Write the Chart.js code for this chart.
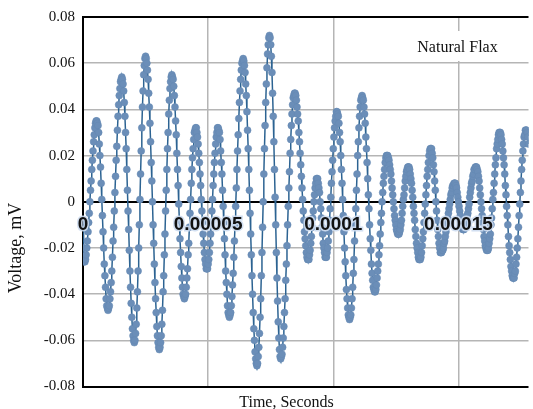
<!DOCTYPE html>
<html>
<head>
<meta charset="utf-8">
<script src="https://cdn.jsdelivr.net/npm/chart.js@4/dist/chart.umd.min.js"></script>
<style>
  html, body { margin: 0; padding: 0; background: #ffffff; }
  #wrap { width: 533px; height: 409px; }
</style>
</head>
<body>
<div id="wrap"><canvas id="chart" width="533" height="409"></canvas></div>
<script>
// Natural flax acoustic response: voltage samples in microvolts, one every 0.25 µs.
const SERIES_LABEL = 'Natural Flax';
const SAMPLE_INTERVAL_S = 0.25e-6;

const trace_000_025us = [
  -8, -20, -26,
  -26, -25, -23, -20, -17, -13, -9, -5, 0, 5, 9, 14, 18, 22, 26, 29, 32, 34, 35, 35,
  34, 33, 30, 25, 20, 15, 8, 1, -6, -13, -20, -27, -32, -37, -42, -45, -46, -47,
  -46, -45, -42, -39, -35, -30, -24, -17, -11, -4, 4, 11, 18, 24, 31, 37, 42, 46, 49, 52, 53, 54,
  53, 51, 48, 43, 37, 30, 23, 14, 5, -4, -12, -21, -30, -37, -44, -50, -55, -58, -60, -61,
  -60, -57, -53, -46, -39, -30, -20, -10, 1, 12, 22, 32, 41, 48, 55, 59, 62, 63
];
const trace_025_050us = [
  62, 60, 57, 53, 47, 41, 34, 26, 17, 9, 0, -10, -18, -27, -35, -42, -48, -54, -58, -61, -63, -64,
  -63, -61, -58, -53, -47, -39, -32, -23, -14, -4, 5, 14, 23, 30, 38, 44, 49, 52, 54, 55,
  54, 53, 50, 46, 41, 35, 29, 21, 14, 7, -1, -8, -16, -22, -28, -33, -37, -40, -41, -42,
  -41, -40, -37, -33, -29, -23, -18, -11, -5, 1, 8, 14, 19, 23, 27, 30, 31, 32,
  32, 30, 28, 25, 21, 17, 12, 7, 1, -4, -9, -14, -18, -22, -25, -27, -29, -29
];
const trace_050_075us = [
  -29, -27, -25, -22, -18, -14, -9, -4, 1, 7, 12, 17, 21, 25, 28, 30, 32, 32,
  31, 30, 27, 22, 17, 12, 5, -2, -9, -16, -23, -30, -35, -40, -45, -48, -49, -50,
  -49, -48, -45, -41, -36, -31, -24, -17, -10, -2, 6, 14, 22, 29, 36, 43, 48, 53, 57, 60, 61, 62,
  61, 59, 56, 51, 46, 39, 31, 23, 14, 5, -5, -14, -23, -32, -40, -48, -55, -60, -65, -68, -70, -71,
  -70, -67, -63, -57, -50, -42, -32, -22, -11, 0, 12, 23, 33, 43, 51, 58, 64, 68, 71, 72
];
const trace_075_102us = [
  71, 68, 63, 56, 47, 37, 26, 14, 2, -10, -22, -33, -43, -52, -59, -64, -67, -68,
  -67, -66, -63, -59, -54, -48, -42, -34, -27, -19, -10, -2, 6, 13, 21, 27, 33, 38, 42, 45, 46, 47,
  47, 46, 44, 41, 38, 35, 30, 26, 21, 16, 11, 6, 1, -4, -8, -13, -16, -19, -22, -24, -25, -25,
  -25, -23, -21, -18, -15, -11, -7, -4, 0, 3, 6, 8, 10, 10,
  10, 8, 6, 4, 0, -3, -7, -11, -14, -18, -20, -22, -24, -24,
  -24, -22, -20, -17, -13, -8, -3, 2, 8, 13, 18, 23, 28, 32, 35, 37, 39, 39
];
const trace_102_126us = [
  38, 37, 34, 30, 26, 20, 14, 8, 1, -6, -13, -20, -26, -32, -38, -42, -46, -49, -50, -51,
  -50, -49, -46, -42, -37, -31, -25, -17, -10, -3, 5, 12, 20, 26, 32, 37, 41, 44, 45, 46,
  45, 44, 41, 38, 34, 28, 23, 17, 10, 3, -3, -10, -16, -21, -27, -31, -34, -37, -38, -39,
  -39, -38, -36, -33, -30, -27, -23, -19, -14, -9, -5, 0, 4, 8, 11, 14, 17, 19, 20, 20,
  20, 19, 18, 16, 14, 12, 9, 6, 3, 0, -3, -6, -8, -10, -12, -13, -14, -14
];
const trace_126_152us = [
  -14, -13, -12, -10, -8, -5, -2, 1, 3, 6, 9, 11, 13, 14, 15, 15,
  15, 14, 12, 10, 8, 5, 2, -2, -5, -8, -12, -15, -18, -20, -22, -24, -25, -25,
  -25, -24, -22, -19, -16, -13, -9, -5, -1, 3, 7, 11, 14, 17, 20, 22, 23, 23,
  23, 21, 19, 16, 13, 9, 5, 0, -4, -8, -12, -15, -18, -20, -22, -22,
  -22, -21, -21, -20, -18, -17, -15, -13, -11, -9, -7, -5, -3, -1, 1, 3, 4, 6, 7, 7, 8, 8,
  8, 7, 6, 4, 2, 0, -2, -4, -6, -8, -10, -11, -12, -12
];
const trace_152_179us = [
  -12, -11, -11, -9, -8, -6, -5, -3, -1, 2, 4, 6, 8, 9, 11, 12, 14, 14, 15, 15,
  15, 14, 13, 11, 9, 6, 3, 0, -3, -6, -9, -12, -15, -17, -19, -20, -21, -21,
  -21, -20, -18, -16, -14, -10, -7, -3, 1, 4, 8, 12, 16, 19, 23, 25, 27, 29, 30, 30,
  30, 29, 27, 25, 22, 19, 16, 12, 7, 3, -2, -6, -10, -15, -19, -22, -25, -28, -30, -32, -33, -33,
  -33, -31, -30, -27, -24, -20, -16, -11, -6, -1, 4, 9, 14, 18, 22, 25, 28, 29, 31, 31,
  31, 30, 28, 25, 22, 18
];

const TIME_MAX_S = 0.000178;
const timeTicks = [0, 0.00005, 0.0001, 0.00015];
const timeTickLabels = ['0', '0.00005', '0.0001', '0.00015'];
const voltageTicks = [-0.08, -0.06, -0.04, -0.02, 0, 0.02, 0.04, 0.06, 0.08];
const voltageTickLabels = ['-0.08', '-0.06', '-0.04', '-0.02', '0', '0.02', '0.04', '0.06', '0.08'];
const X_TITLE = 'Time, Seconds';
const Y_TITLE = 'Voltage, mV';

const samplesMicroVolt = [].concat(
  trace_000_025us, trace_025_050us, trace_050_075us, trace_075_102us,
  trace_102_126us, trace_126_152us, trace_152_179us
);
const points = samplesMicroVolt.map((uv, i) => ({ x: i * SAMPLE_INTERVAL_S, y: uv / 1000 }));

const SERIF = "'Liberation Serif', 'Times New Roman', serif";
const SANS = "'Liberation Sans', Arial, sans-serif";
const GRID_GREY = '#b5b5b5';

const isFrameValue = v => Math.abs(v) < 1e-12 || Math.abs(Math.abs(v) - 0.08) < 1e-9;

// Series name box and the two axis titles
const overlayText = {
  id: 'overlayText',
  afterDraw(chart) {
    const ctx = chart.ctx;
    const area = chart.chartArea;
    ctx.save();
    // series name, upper right of the plot
    const lx = area.right - 71;
    const ly = area.top + 35;
    ctx.fillStyle = '#ffffff';
    ctx.fillRect(lx - 48, area.top + 14, 96, 30);
    ctx.fillStyle = '#111111';
    ctx.font = '16px ' + SERIF;
    ctx.textAlign = 'center';
    ctx.textBaseline = 'alphabetic';
    ctx.fillText(chart.data.datasets[0].label, lx, ly);
    // x title
    ctx.font = '16px ' + SERIF;
    ctx.fillText(X_TITLE, 286.5, chart.height - 2);
    // y title
    ctx.translate(20.5, 248);
    ctx.rotate(-Math.PI / 2);
    ctx.font = '18px ' + SERIF;
    ctx.fillText(Y_TITLE, 0, 0);
    ctx.restore();
  }
};

new Chart(document.getElementById('chart'), {
  type: 'line',
  data: {
    datasets: [{
      label: SERIES_LABEL,
      data: points,
      borderColor: '#2c6392',
      borderWidth: 1.5,
      pointRadius: 3.5,
      pointBackgroundColor: '#6b8eb8',
      pointBorderColor: '#6488b3',
      pointBorderWidth: 0.5,
      tension: 0,
      fill: false
    }]
  },
  options: {
    responsive: false,
    animation: false,
    devicePixelRatio: 1,
    events: [],
    layout: { padding: { top: 16, bottom: 22.5, left: 0, right: 0 } },
    plugins: {
      legend: { display: false },
      tooltip: { enabled: false }
    },
    scales: {
      x: {
        type: 'linear',
        min: 0,
        max: TIME_MAX_S,
        position: { y: 0 },
        afterBuildTicks: s => { s.ticks = timeTicks.map(v => ({ value: v })); },
        grid: {
          color: c => (c.tick && c.tick.value === 0) ? 'rgba(0,0,0,0)' : GRID_GREY,
          lineWidth: 1.5,
          drawTicks: false
        },
        border: { display: true, color: '#000000', width: 2 },
        ticks: {
          z: 1,
          padding: 14,
          autoSkip: false,
          maxRotation: 0,
          color: '#111111',
          textStrokeColor: 'rgba(205,220,240,0.9)',
          textStrokeWidth: 3,
          font: { family: SANS, size: 19, weight: 'bold', lineHeight: 1 },
          callback: (v, i) => timeTickLabels[i]
        }
      },
      y: {
        type: 'linear',
        min: -0.08,
        max: 0.08,
        afterBuildTicks: s => { s.ticks = voltageTicks.map(v => ({ value: v })); },
        afterFit: s => { s.width = 83; },
        grid: {
          color: c => (c.tick && isFrameValue(c.tick.value)) ? '#000000' : GRID_GREY,
          lineWidth: c => (c.tick && isFrameValue(c.tick.value)) ? 2 : 1.5,
          drawTicks: false
        },
        border: { display: true, color: '#000000', width: 2 },
        ticks: {
          padding: 8,
          color: '#111111',
          font: { family: SERIF, size: 15 },
          callback: (v, i) => voltageTickLabels[i]
        }
      }
    }
  },
  plugins: [overlayText]
});
</script>
</body>
</html>
